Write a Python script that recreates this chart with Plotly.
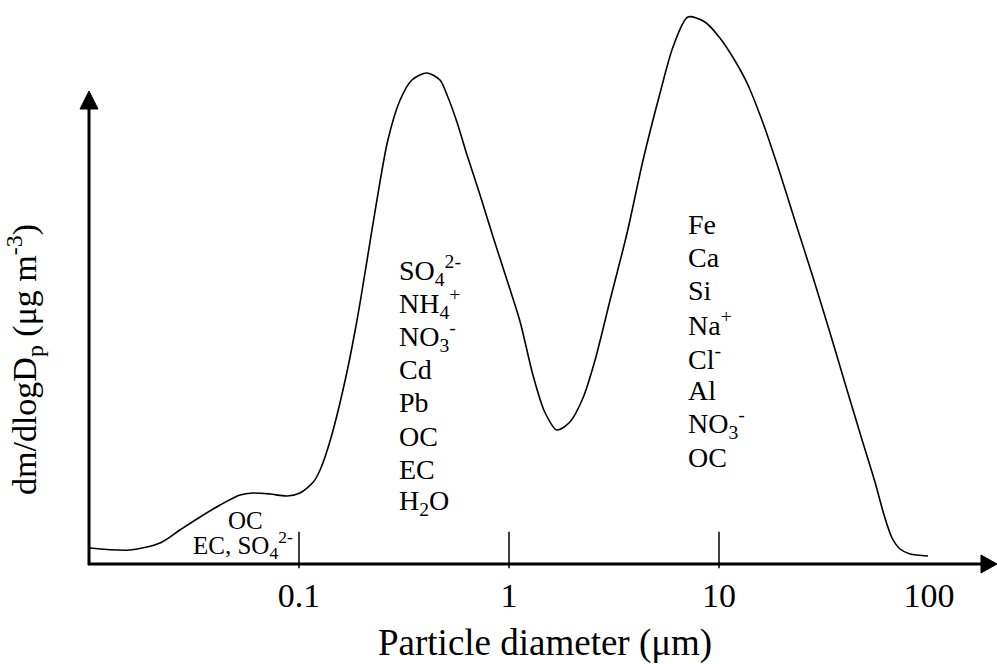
import plotly.graph_objects as go

# ---- data (arbitrary mass units) ----
diameter_um = [0.0101, 0.0157, 0.0218, 0.0271, 0.0338, 0.0421, 0.0524, 0.0604, 0.0728,
               0.0877, 0.101, 0.117, 0.126, 0.141, 0.166, 0.189, 0.211, 0.235, 0.265,
               0.303, 0.345, 0.407, 0.469, 0.507, 0.565, 0.631, 0.728, 0.840, 0.978,
               1.13, 1.30, 1.48, 1.69, 1.95, 2.25, 2.57, 3.03, 3.65, 4.35, 5.24, 6.04,
               7.11, 8.57, 10.1, 11.7, 13.6, 16.2, 19.5, 23.5, 28.0, 33.8, 40.7, 48.5,
               55.3, 61.1, 66.7, 72.8, 81.3, 98.9]
dm_dlogdp = [16, 14, 21, 34, 47, 59, 69, 71, 70,
             68, 71, 82, 94, 124, 184, 244, 304, 364, 424,
             464, 484, 491, 484, 469, 442, 409, 369, 327, 284,
             242, 189, 152, 134, 142, 166, 204, 264, 331, 404, 471, 517,
             547, 542, 526, 506, 481, 441, 391, 337, 287, 231, 174, 121,
             82, 49, 26, 15, 10, 8]

tick_values = [0.1, 1, 10, 100]
tick_labels = ["0.1", "1", "10", "100"]
tick_marks = [0.1, 1, 10]          # the reference draws no mark at 100

fine_species = ["SO<sub>4</sub><sup>2-</sup>", "NH<sub>4</sub><sup>+</sup>", "NO<sub>3</sub><sup>-</sup>",
                "Cd", "Pb", "OC", "EC", "H<sub>2</sub>O"]
coarse_species = ["Fe", "Ca", "Si", "Na<sup>+</sup>", "Cl<sup>-</sup>", "Al",
                  "NO<sub>3</sub><sup>-</sup>", "OC"]
ultrafine_species = ["OC", "EC, SO<sub>4</sub><sup>2-</sup>"]

# ---- geometry helpers (pixel -> paper) ----
W, H = 997, 664
L, R, T, B = 89, 0, 0, 100
PW, PH = W - L - R, H - T - B


def px(x):
    return (x - L) / PW


def py(y):
    return (H - B - y) / PH


FONT = "Liberation Serif, Times New Roman, serif"

fig = go.Figure()
fig.add_trace(go.Scatter(
    x=diameter_um, y=dm_dlogdp, mode="lines",
    line=dict(color="black", width=1.6, shape="spline", smoothing=0.8),
    hoverinfo="skip", showlegend=False))
# tick marks (vertical line markers sitting on the x axis)
fig.add_trace(go.Scatter(
    x=tick_marks, y=[14] * len(tick_marks), mode="markers",
    marker=dict(symbol="line-ns", size=26, line=dict(color="black", width=1.5)),
    hoverinfo="skip", showlegend=False, cliponaxis=False))

fig.update_xaxes(type="log", range=[-2.0, -1 + (W - 299) / 210],
                 tickvals=tick_values, ticktext=tick_labels,
                 ticks="", showline=False, showgrid=False, zeroline=False,
                 tickfont=dict(family=FONT, size=34, color="black"),
                 ticklabelstandoff=8)
fig.update_yaxes(visible=False, range=[0, PH])

shapes = []
# axes lines
shapes.append(dict(type="line", xref="paper", yref="paper",
                   x0=px(88), x1=px(986), y0=py(564), y1=py(564),
                   line=dict(color="black", width=3)))
shapes.append(dict(type="line", xref="paper", yref="paper",
                   x0=px(89), x1=px(89), y0=py(565), y1=py(104),
                   line=dict(color="black", width=3)))
# arrow heads
shapes.append(dict(type="path", xref="paper", yref="paper",
                   path=f"M {px(89)} {py(91)} L {px(80)} {py(109)} L {px(98)} {py(109)} Z",
                   fillcolor="black", line=dict(color="black", width=1)))
shapes.append(dict(type="path", xref="paper", yref="paper",
                   path=f"M {px(997)} {py(564)} L {px(981)} {py(555)} L {px(981)} {py(573)} Z",
                   fillcolor="black", line=dict(color="black", width=1)))

ann = []
ann_font = dict(family=FONT, size=28, color="black")
for i, t in enumerate(fine_species):
    ann.append(dict(text=t, xref="paper", yref="paper", x=px(397), y=py(270 + 33.2 * i),
                    xanchor="left", yanchor="middle", showarrow=False, font=ann_font))
for i, t in enumerate(coarse_species):
    ann.append(dict(text=t, xref="paper", yref="paper", x=px(686), y=py(224 + 33.3 * i),
                    xanchor="left", yanchor="middle", showarrow=False, font=ann_font))
ann.append(dict(text=ultrafine_species[0], xref="paper", yref="paper", x=px(245), y=py(520),
                xanchor="center", yanchor="middle", showarrow=False,
                font=dict(family=FONT, size=25, color="black")))
ann.append(dict(text=ultrafine_species[1], xref="paper", yref="paper", x=px(243), y=py(545),
                xanchor="center", yanchor="middle", showarrow=False,
                font=dict(family=FONT, size=25, color="black")))
# axis titles
ann.append(dict(text="Particle diameter (μm)", xref="paper", yref="paper",
                x=px(545), y=py(643), xanchor="center", yanchor="middle", showarrow=False,
                font=dict(family=FONT, size=37, color="black")))
ann.append(dict(text="dm/dlogD<sub>p</sub> (μg m<sup>-3</sup>)", xref="paper", yref="paper",
                x=px(24), y=py(360), xanchor="center", yanchor="middle", textangle=-90,
                showarrow=False, font=dict(family=FONT, size=34, color="black")))

fig.update_layout(width=W, height=H, margin=dict(l=L, r=R, t=T, b=B),
                  paper_bgcolor="white", plot_bgcolor="white",
                  shapes=shapes, annotations=ann, showlegend=False)

fig.write_html("out.html", config={"displayModeBar": False},
               post_script="document.body.style.margin='0px';document.body.style.overflow='hidden';")
